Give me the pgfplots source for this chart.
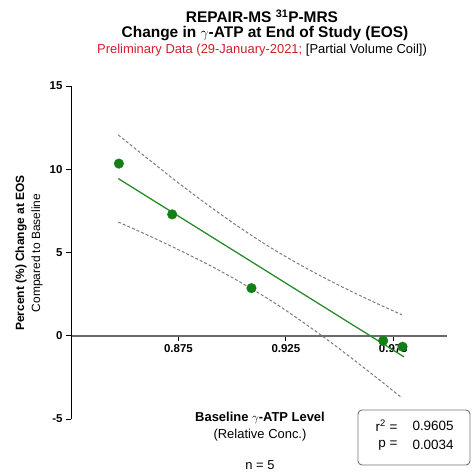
\documentclass[border=0pt]{standalone}
\usepackage{fontspec}
\setmainfont{Liberation Sans}
\usepackage{pgfplots}
\pgfplotsset{compat=1.18}

\definecolor{ptgreen}{RGB}{18,128,22}
\definecolor{fitgreen}{RGB}{40,140,40}
\definecolor{bandgray}{RGB}{125,125,125}
\definecolor{redtxt}{RGB}{210,30,40}

\begin{document}
\begin{tikzpicture}
\useasboundingbox (0,0) rectangle (475bp,476bp);
\begin{axis}[
  at={(71bp,57bp)}, anchor=south west,
  scale only axis, width=376bp, height=333bp,
  xmin=0.825, xmax=1.0, ymin=-5, ymax=15,
  axis x line=middle, axis y line=left,
  x axis line style={-, draw=black!58, line width=2bp},
  y axis line style={-, draw=black, line width=1bp},
  hide obscured x ticks=false, hide obscured y ticks=false,
  xtick={0.875,0.925,0.975}, xticklabels={0.875,0.925,0.975},
  ytick={-5,0,5,10,15}, yticklabels={-5,0,5,10,15},
  tick align=outside, major tick length=5bp,
  tick style={black, line width=0.9pt},
  ticklabel style={font=\bfseries\fontsize{11.5}{13}\selectfont},
  clip=false,
]
% 95% confidence band
\addplot[bandgray, line width=1pt, dash pattern=on 3bp off 2bp, smooth] coordinates {
  (0.847,12.06) (0.860,10.71) (0.875,9.18) (0.890,7.73) (0.905,6.37)
  (0.920,5.13) (0.935,4.02) (0.950,3.01) (0.965,2.08) (0.979,1.26)};
\addplot[bandgray, line width=1pt, dash pattern=on 3bp off 2bp, smooth] coordinates {
  (0.847,6.83) (0.860,6.08) (0.875,5.17) (0.890,4.20) (0.905,3.13)
  (0.920,1.95) (0.935,0.63) (0.950,-0.79) (0.965,-2.29) (0.979,-3.73)};
% regression line
\addplot[fitgreen, line width=1.3pt] coordinates {(0.847,9.44) (0.980,-1.27)};
% data
\addplot[only marks, mark=*, mark size=4.8bp, ptgreen] coordinates {
  (0.8473,10.34) (0.8721,7.29) (0.9090,2.86) (0.9703,-0.30) (0.9793,-0.66)};
\end{axis}

% titles
\node[font=\bfseries\fontsize{15.5}{18}\selectfont] at (262bp,460bp) {REPAIR-MS \textsuperscript{31}P-MRS};
\node[font=\bfseries\fontsize{15.5}{18}\selectfont] at (265bp,442bp) {Change in $\gamma$-ATP at End of Study (EOS)};
\node[font=\fontsize{13}{15}\selectfont] at (262bp,426bp) {\textcolor{redtxt}{Preliminary Data (29-January-2021;} [Partial Volume Coil])};

% y label
\node[rotate=90, font=\bfseries\fontsize{12}{14}\selectfont] at (21bp,223bp) {Percent (\%) Change at EOS};
\node[rotate=90, font=\fontsize{12}{14}\selectfont] at (37bp,223bp) {Compared to Baseline};

% x label
\node[font=\bfseries\fontsize{13}{15}\selectfont] at (260bp,58bp) {Baseline $\gamma$-ATP Level};
\node[font=\fontsize{13}{15}\selectfont] at (260bp,41bp) {(Relative Conc.)};
\node[font=\fontsize{13}{15}\selectfont] at (260bp,11bp) {n = 5};

% stats box
\draw[black!55, line width=0.9pt, rounded corners=4bp] (358bp,11bp) rectangle (470bp,66bp);
\node[anchor=east, font=\fontsize{13.5}{15}\selectfont] at (401bp,50bp) {r\textsuperscript{2} =};
\node[anchor=west, font=\fontsize{13.5}{15}\selectfont] at (409bp,50bp) {0.9605};
\node[anchor=east, font=\fontsize{13.5}{15}\selectfont] at (401bp,31bp) {p =};
\node[anchor=west, font=\fontsize{13.5}{15}\selectfont] at (409bp,31bp) {0.0034};
\end{tikzpicture}
\end{document}
